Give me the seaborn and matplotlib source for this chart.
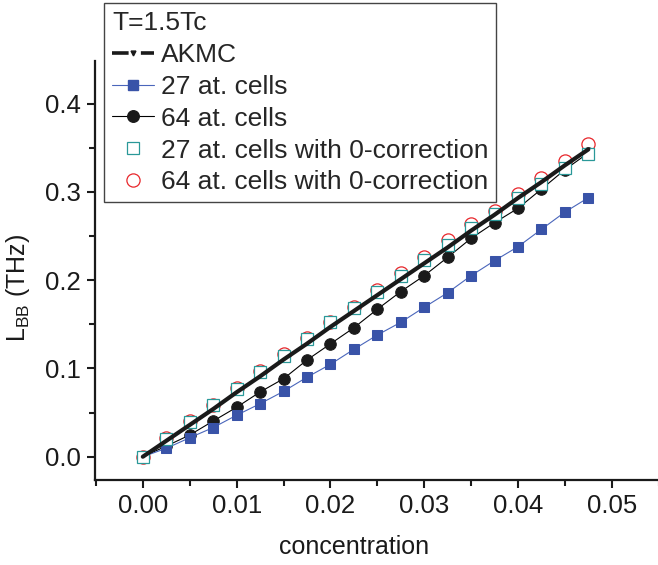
import matplotlib
matplotlib.use("Agg")
import matplotlib.pyplot as plt
from matplotlib.lines import Line2D
from matplotlib.ticker import MultipleLocator, FormatStrFormatter
import pandas as pd
import seaborn as sns

# Concentration grid (step 0.0025)
concentration = [0.0, 0.0025, 0.005, 0.0075, 0.01, 0.0125, 0.015, 0.0175, 0.02, 0.0225,
                 0.025, 0.0275, 0.03, 0.0325, 0.035, 0.0375, 0.04, 0.0425, 0.045, 0.0475]

# L_BB (THz) for each series
akmc = [0.0, 0.018, 0.036, 0.054, 0.073, 0.091, 0.110, 0.128, 0.147, 0.165,
        0.183, 0.201, 0.219, 0.237, 0.256, 0.274, 0.293, 0.311, 0.330, 0.348]
cells27 = [0.0, 0.0095, 0.0215, 0.033, 0.047, 0.060, 0.074, 0.090, 0.1046, 0.1216,
           0.1378, 0.1522, 0.1692, 0.1857, 0.205, 0.222, 0.2378, 0.2575, 0.277, 0.2933]
cells64 = [0.0, 0.012, 0.0246, 0.0404, 0.056, 0.0733, 0.0883, 0.1095, 0.1278, 0.146,
           0.167, 0.187, 0.205, 0.2258, 0.2473, 0.265, 0.2813, 0.303, 0.325, 0.344]
cells27_corr = [0.0, 0.0205, 0.039, 0.058, 0.077, 0.096, 0.114, 0.133, 0.152, 0.168,
                0.187, 0.205, 0.223, 0.240, 0.259, 0.275, 0.293, 0.309, 0.327, 0.343]
cells64_corr = [0.0, 0.021, 0.040, 0.059, 0.078, 0.097, 0.116, 0.134, 0.153, 0.170,
                0.189, 0.208, 0.226, 0.245, 0.264, 0.278, 0.297, 0.316, 0.335, 0.354]

labels = ["AKMC", "27 at. cells", "64 at. cells",
          "27 at. cells with 0-correction", "64 at. cells with 0-correction"]
legend_title = "T=1.5Tc"

df = pd.DataFrame({
    "c": concentration,
    "akmc": akmc,
    "c27": cells27,
    "c64": cells64,
    "c27corr": cells27_corr,
    "c64corr": cells64_corr,
})

sns.set_style("ticks")
plt.rcParams["font.family"] = ["Liberation Sans", "DejaVu Sans"]
plt.rcParams["mathtext.fontset"] = "custom"
plt.rcParams["mathtext.rm"] = "Liberation Sans"
plt.rcParams["mathtext.it"] = "Liberation Sans:italic"

BLUE = "#3953a8"
TEAL = "#2a9898"
RED = "#e8262b"
INK = "#1a1a1a"

fig = plt.figure(figsize=(6.58, 5.65), dpi=100)
ax = fig.add_axes([0.1444, 0.1504, 0.858, 0.7422])

sns.lineplot(data=df, x="c", y="c64corr", ax=ax, linestyle="", marker="o",
             markersize=9.5, markerfacecolor="white", markeredgecolor=RED,
             markeredgewidth=0.9, zorder=2)
sns.lineplot(data=df, x="c", y="c64", ax=ax, color="black", linewidth=0.8,
             marker="o", markersize=8.3, markerfacecolor=INK,
             markeredgecolor=INK, zorder=3)
sns.lineplot(data=df, x="c", y="c27", ax=ax, color="#4a66bb", linewidth=0.8,
             marker="s", markersize=6.8, markerfacecolor=BLUE,
             markeredgecolor=BLUE, zorder=4)
sns.lineplot(data=df, x="c", y="c27corr", ax=ax, linestyle="", marker="s",
             markersize=8.8, markerfacecolor="white", markeredgecolor=TEAL,
             markeredgewidth=0.9, zorder=5)
sns.lineplot(data=df, x="c", y="akmc", ax=ax, color=INK, linewidth=3.0,
             zorder=6)

ax.set_xlim(-0.0051, 0.0551)
ax.set_ylim(-0.0264, 0.4485)
ax.xaxis.set_major_locator(MultipleLocator(0.01))
ax.xaxis.set_minor_locator(MultipleLocator(0.005))
ax.xaxis.set_major_formatter(FormatStrFormatter("%.2f"))
ax.yaxis.set_major_locator(MultipleLocator(0.1))
ax.yaxis.set_minor_locator(MultipleLocator(0.05))
ax.yaxis.set_major_formatter(FormatStrFormatter("%.1f"))

sns.despine(ax=ax)
for side in ("left", "bottom"):
    ax.spines[side].set_linewidth(1.6)
    ax.spines[side].set_color(INK)
ax.tick_params(which="major", direction="out", length=6, width=1.5,
               labelsize=18.5, colors=INK, pad=4)
ax.tick_params(which="minor", direction="out", length=4, width=1.5,
               colors=INK)

ax.set_xlabel("concentration", fontsize=18, color=INK)
ax.set_ylabel(r"L$_{\mathrm{BB}}$ (THz)", fontsize=18, color=INK)
ax.xaxis.set_label_coords(0.458, -0.132)
ax.yaxis.set_label_coords(-0.112, 0.459)

handles = [
    Line2D([], [], color=INK, linewidth=2.6, linestyle=(0, (4.6, 3.4)),
           marker="v", markersize=3.5),
    Line2D([], [], color="#4a66bb", linewidth=0.8, marker="s", markersize=6.8,
           markerfacecolor=BLUE, markeredgecolor=BLUE),
    Line2D([], [], color="black", linewidth=0.8, marker="o", markersize=8.3,
           markerfacecolor=INK, markeredgecolor=INK),
    Line2D([], [], linestyle="", marker="s", markersize=8.8,
           markerfacecolor="white", markeredgecolor=TEAL, markeredgewidth=0.9),
    Line2D([], [], linestyle="", marker="o", markersize=9.5,
           markerfacecolor="white", markeredgecolor=RED, markeredgewidth=0.9),
]
leg = fig.legend(handles, labels, title=legend_title, loc="upper left",
                 bbox_to_anchor=(104 / 658, 1 - 3 / 565), borderaxespad=0,
                 fontsize=19, title_fontsize=19, alignment="left",
                 numpoints=1, handlelength=1.6, handletextpad=0.25,
                 labelspacing=0.3, borderpad=0.3, fancybox=False,
                 framealpha=1, edgecolor="#444444")
leg.get_frame().set_linewidth(1.0)

fig.savefig("out.png", dpi=100)
